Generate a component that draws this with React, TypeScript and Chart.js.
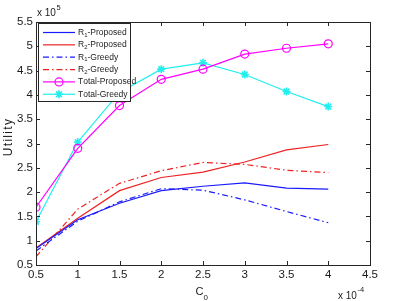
import React, { useEffect, useRef } from "react";
import { Chart, registerables } from "chart.js";

Chart.register(...registerables);

// C0 sweep (x 10^-4) and utility values (x 10^5)
const c0 = [0.5, 1, 1.5, 2, 2.5, 3, 3.5, 4];
const r1Proposed = [0.84, 1.43, 1.77, 2.03, 2.12, 2.19, 2.08, 2.06];
const r2Proposed = [0.85, 1.46, 2.03, 2.3, 2.41, 2.62, 2.87, 2.98];
const r1Greedy = [0.79, 1.4, 1.8, 2.07, 2.04, 1.84, 1.6, 1.37];
const r2Greedy = [0.67, 1.65, 2.18, 2.44, 2.61, 2.57, 2.45, 2.4];
const totalProposed = [1.69, 2.9, 3.78, 4.32, 4.53, 4.84, 4.96, 5.05];
const totalGreedy = [1.39, 3.03, 4.05, 4.53, 4.66, 4.42, 4.07, 3.76];

const seriesLabels = ["R_1-Proposed", "R_2-Proposed", "R_1-Greedy", "R_2-Greedy", "Total-Proposed", "Total-Greedy"];
const xTicks = [0.5, 1, 1.5, 2, 2.5, 3, 3.5, 4, 4.5];
const yTicks = [0.5, 1, 1.5, 2, 2.5, 3, 3.5, 4, 4.5, 5, 5.5];

const FONT = "'Liberation Sans', Arial, sans-serif";
const BLUE = "#1a1aff";
const RED = "#ee2222";
const MAGENTA = "#ff00ff";
const CYAN = "#22eeee";
const DASHDOT = [6, 3, 1.5, 3];

function pts(ys: number[]) {
  return ys.map((y, i) => ({ x: c0[i], y }));
}

function drawMarker(ctx: CanvasRenderingContext2D, style: string, x: number, y: number, r: number, color: string) {
  ctx.save();
  ctx.strokeStyle = color;
  ctx.lineWidth = 1.2;
  ctx.setLineDash([]);
  if (style === "circle") {
    ctx.beginPath();
    ctx.arc(x, y, r, 0, Math.PI * 2);
    ctx.stroke();
  } else if (style === "star") {
    ctx.lineWidth = 1.6;
    ctx.beginPath();
    for (let k = 0; k < 4; k++) {
      const a = (k * Math.PI) / 4;
      ctx.moveTo(x - Math.cos(a) * r, y - Math.sin(a) * r);
      ctx.lineTo(x + Math.cos(a) * r, y + Math.sin(a) * r);
    }
    ctx.stroke();
  }
  ctx.restore();
}

// draw text where "_c" makes c a subscript
function drawRich(ctx: CanvasRenderingContext2D, text: string, x: number, y: number, size: number) {
  let cx = x;
  let i = 0;
  while (i < text.length) {
    if (text[i] === "_" && i + 1 < text.length) {
      ctx.font = `${size * 0.7}px ${FONT}`;
      ctx.fillText(text[i + 1], cx, y + size * 0.3);
      cx += ctx.measureText(text[i + 1]).width;
      i += 2;
    } else {
      ctx.font = `${size}px ${FONT}`;
      ctx.fillText(text[i], cx, y);
      cx += ctx.measureText(text[i]).width;
      i += 1;
    }
  }
}

// "x 10" followed by a raised exponent
function drawPower(ctx: CanvasRenderingContext2D, x: number, y: number, exp: string) {
  ctx.font = `10px ${FONT}`;
  ctx.fillText("x 10", x, y);
  const w = ctx.measureText("x 10").width;
  ctx.font = `7.5px ${FONT}`;
  ctx.fillText(exp, x + w + 0.5, y - 6.5);
}

const framePlugin = {
  id: "frame",
  afterDatasetsDraw(chart: any) {
    const { ctx, chartArea: a, scales } = chart;
    ctx.save();
    // axes box with inward ticks on all sides
    ctx.strokeStyle = "#262626";
    ctx.lineWidth = 1;
    ctx.setLineDash([]);
    ctx.strokeRect(Math.round(a.left) + 0.5, Math.round(a.top) + 0.5, Math.round(a.right - a.left), Math.round(a.bottom - a.top));
    const tl = 4;
    ctx.beginPath();
    xTicks.forEach((v) => {
      const px = Math.round(scales.x.getPixelForValue(v)) + 0.5;
      ctx.moveTo(px, a.bottom);
      ctx.lineTo(px, a.bottom - tl);
      ctx.moveTo(px, a.top);
      ctx.lineTo(px, a.top + tl);
    });
    yTicks.forEach((v) => {
      const py = Math.round(scales.y.getPixelForValue(v)) + 0.5;
      ctx.moveTo(a.left, py);
      ctx.lineTo(a.left + tl, py);
      ctx.moveTo(a.right, py);
      ctx.lineTo(a.right - tl, py);
    });
    ctx.stroke();

    // legend box
    const lx = a.left + 2;
    const ly = a.top + 1;
    const lw = 92;
    const lh = 78;
    ctx.fillStyle = "#ffffff";
    ctx.fillRect(lx, ly, lw, lh);
    ctx.strokeStyle = "#262626";
    ctx.strokeRect(lx + 0.5, ly + 0.5, lw, lh);
    const ds = chart.data.datasets;
    ds.forEach((d: any, i: number) => {
      const rowY = ly + 9.5 + i * 12.35;
      const x0 = lx + 5;
      const x1 = lx + 37;
      ctx.save();
      ctx.strokeStyle = d.borderColor;
      ctx.lineWidth = 1.2;
      ctx.setLineDash(d.borderDash || []);
      ctx.beginPath();
      ctx.moveTo(x0, rowY);
      ctx.lineTo(x1, rowY);
      ctx.stroke();
      ctx.restore();
      if (d.pointRadius > 0) drawMarker(ctx, d.pointStyle, (x0 + x1) / 2, rowY, d.pointRadius, d.borderColor);
      ctx.fillStyle = "#222";
      ctx.textBaseline = "middle";
      ctx.textAlign = "left";
      drawRich(ctx, d.label, x1 + 3, rowY, 8.5);
    });

    // axis titles and exponent notes
    ctx.fillStyle = "#1a1a1a";
    ctx.textBaseline = "alphabetic";
    ctx.textAlign = "left";
    drawPower(ctx, 37, 16, "5");
    drawPower(ctx, 338, 298.5, "-4");

    ctx.font = `11px ${FONT}`;
    ctx.fillText("C", 195.5, 295);
    ctx.font = `8px ${FONT}`;
    ctx.fillText("0", 203.5, 300);

    ctx.save();
    ctx.translate(11.5, 137);
    ctx.rotate(-Math.PI / 2);
    ctx.textAlign = "center";
    ctx.font = `12px ${FONT}`;
    (ctx as any).letterSpacing = "1.3px";
    ctx.fillText("Utility", 0, 0);
    ctx.restore();
    ctx.restore();
  },
};

export default function App() {
  const ref = useRef<HTMLCanvasElement>(null);

  useEffect(() => {
    if (!ref.current) return;
    const line = (label: string, data: number[], color: string, dash: number[], style: string, r: number) => ({
      label,
      data: pts(data),
      borderColor: color,
      backgroundColor: "transparent",
      borderWidth: 1.2,
      borderDash: dash,
      pointStyle: style,
      pointRadius: r,
      pointBorderWidth: style === "star" ? 1.6 : 1.2,
      pointBorderColor: color,
      pointBackgroundColor: "transparent",
      tension: 0,
      fill: false,
    });
    const chart = new Chart(ref.current, {
      type: "line",
      data: {
        datasets: [
          line(seriesLabels[0], r1Proposed, BLUE, [], "circle", 0),
          line(seriesLabels[1], r2Proposed, RED, [], "circle", 0),
          line(seriesLabels[2], r1Greedy, BLUE, DASHDOT, "circle", 0),
          line(seriesLabels[3], r2Greedy, RED, DASHDOT, "circle", 0),
          line(seriesLabels[4], totalProposed, MAGENTA, [], "circle", 4),
          line(seriesLabels[5], totalGreedy, CYAN, [], "star", 4),
        ] as any,
      },
      options: {
        animation: false,
        responsive: false,
        devicePixelRatio: 1,
        layout: { padding: { top: 22, right: 40, left: 0, bottom: 0 } },
        plugins: { legend: { display: false }, tooltip: { enabled: false } },
        scales: {
          x: {
            type: "linear",
            min: 0.5,
            max: 4.5,
            afterBuildTicks: (s: any) => {
              s.ticks = xTicks.map((v) => ({ value: v }));
            },
            afterFit: (s: any) => {
              s.height = 36;
            },
            grid: { display: false, drawTicks: false },
            border: { display: false },
            ticks: {
              padding: 3,
              color: "#1a1a1a",
              font: { family: FONT, size: 11.5 },
              maxRotation: 0,
              autoSkip: false,
              callback: (v: any) => String(v),
            },
          },
          y: {
            type: "linear",
            min: 0.5,
            max: 5.5,
            afterBuildTicks: (s: any) => {
              s.ticks = yTicks.map((v) => ({ value: v }));
            },
            afterFit: (s: any) => {
              s.width = 36;
            },
            grid: { display: false, drawTicks: false },
            border: { display: false },
            ticks: {
              padding: 3,
              color: "#1a1a1a",
              font: { family: FONT, size: 11.5 },
              autoSkip: false,
              callback: (v: any) => String(v),
            },
          },
        },
      },
      plugins: [framePlugin],
    });
    return () => chart.destroy();
  }, []);

  return (
    <div style={{ position: "absolute", left: 0, top: 0, width: 410, height: 301, background: "#fff" }}>
      <canvas ref={ref} width={410} height={301} style={{ width: 410, height: 301 }} />
    </div>
  );
}
